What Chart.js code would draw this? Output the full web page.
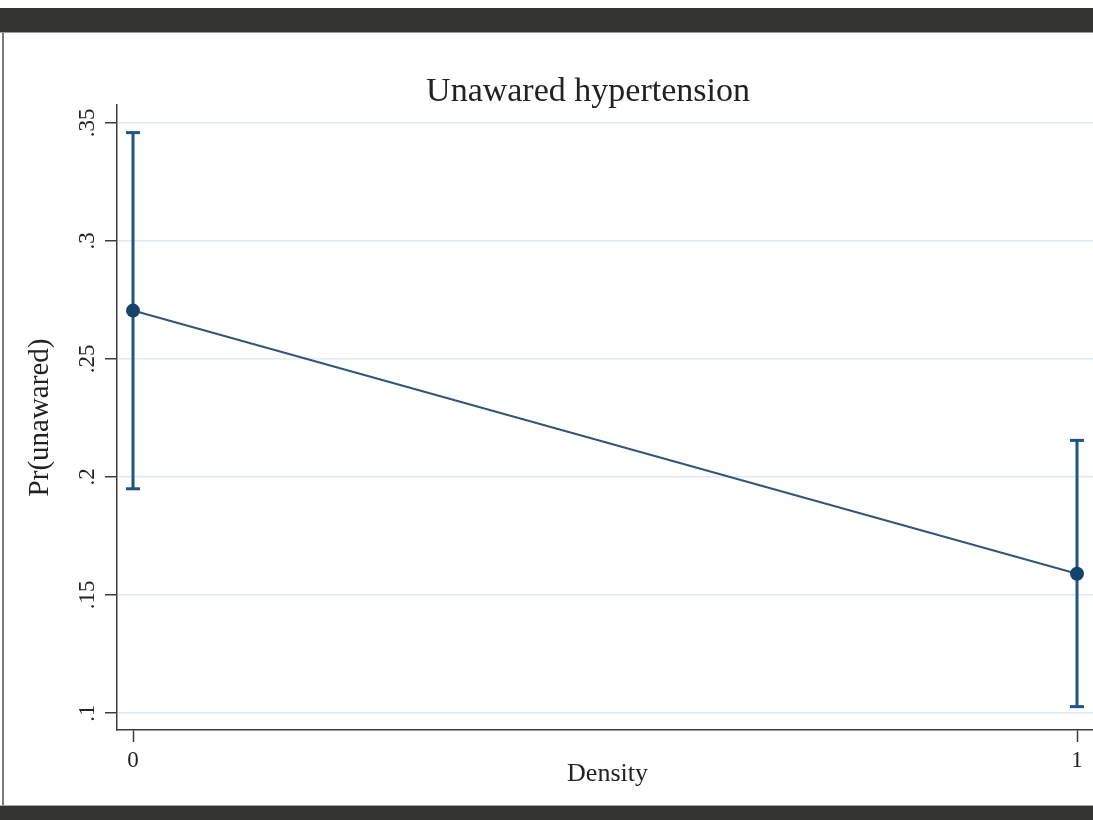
<!DOCTYPE html>
<html>
<head>
<meta charset="utf-8">
<title>Unawared hypertension</title>
<script src="https://cdn.jsdelivr.net/npm/chart.js@4.4.1/dist/chart.umd.min.js"></script>
<style>
  html, body { margin: 0; padding: 0; background: #ffffff; overflow: hidden; width: 1093px; height: 820px; }
  .bar-top { position: absolute; left: 0; top: 8px; width: 1093px; height: 24px; background: #343530; border-bottom: 1.5px solid #9c9c9c; }
  .bar-bottom { position: absolute; left: 0; top: 805px; width: 1093px; height: 15px; background: #343530; border-top: 1.5px solid #a8a8a8; }
  .edge-left { position: absolute; left: 2px; top: 33px; width: 1.5px; height: 772px; background: #7a7a7a; }
  #wrap { position: absolute; left: 4px; top: 33px; width: 1172px; height: 771px; }
</style>
</head>
<body>
<div class="bar-top"></div>
<div class="edge-left"></div>
<div id="wrap"><canvas id="chart" width="1172" height="771"></canvas></div>
<div class="bar-bottom"></div>
<script>
// Predictive margins of Pr(unawared) by density, with 95% confidence intervals
const densityLevels = [0, 1];
const marginValues = [0.2705, 0.1590];
const ciLower = [0.1950, 0.1027];
const ciUpper = [0.3459, 0.2155];
const yTickValues = [0.1, 0.15, 0.2, 0.25, 0.3, 0.35];
const xTickValues = [0, 1];

const SERIF = '"Liberation Serif", "Times New Roman", serif';
const NAVY = '#17426b';
const CI_BLUE = '#1f5584';
const AXIS = '#3c3c3c';
const TEXT = '#222222';

// the y-axis box holds the tick labels; its title hangs further left
const Y_AXIS_LEFT = 74;
const Y_AXIS_WIDTH = 39;

const datasets = [];

// estimate line with markers (drawn on top)
datasets.push({
  label: 'margin',
  data: densityLevels.map((d, i) => ({ x: d, y: marginValues[i] })),
  borderColor: '#34557a',
  borderWidth: 2,
  backgroundColor: NAVY,
  pointBackgroundColor: NAVY,
  pointBorderColor: NAVY,
  pointRadius: 7,
  pointBorderWidth: 0,
  tension: 0,
  clip: false
});

// confidence interval caps
datasets.push({
  label: 'ci-caps',
  data: densityLevels.flatMap((d, i) => [{ x: d, y: ciLower[i] }, { x: d, y: ciUpper[i] }]),
  showLine: false,
  pointStyle: 'line',
  pointRadius: 7,
  pointBorderWidth: 3,
  pointBorderColor: CI_BLUE,
  borderColor: CI_BLUE,
  clip: false
});

// confidence interval spikes
densityLevels.forEach((d, i) => {
  datasets.push({
    label: 'ci-' + d,
    data: [{ x: d, y: ciLower[i] }, { x: d, y: ciUpper[i] }],
    borderColor: CI_BLUE,
    borderWidth: 3,
    pointRadius: 0,
    clip: false
  });
});

new Chart(document.getElementById('chart'), {
  type: 'line',
  data: { datasets },
  options: {
    responsive: false,
    devicePixelRatio: 1,
    animation: false,
    layout: { padding: { left: Y_AXIS_LEFT, right: 78, top: 0, bottom: 0 } },
    plugins: {
      legend: { display: false },
      tooltip: { enabled: false },
      title: {
        display: true,
        text: 'Unawared hypertension',
        color: TEXT,
        font: { family: SERIF, size: 34, weight: 'normal', lineHeight: 0.8 },
        padding: { top: 45.7, bottom: -0.9 }
      }
    },
    scales: {
      x: {
        type: 'linear',
        min: -0.01695,
        max: 1.02224,
        afterBuildTicks: (scale) => { scale.ticks = xTickValues.map(v => ({ value: v })); },
        afterFit: (scale) => { scale.height = 74; },
        border: { display: true, color: AXIS, width: 1.5 },
        grid: { drawOnChartArea: false, drawTicks: true, tickLength: 12, tickColor: AXIS, tickWidth: 1.5 },
        ticks: {
          autoSkip: false,
          maxRotation: 0,
          padding: 4.7,
          color: TEXT,
          font: { family: SERIF, size: 23 },
          callback: (v) => String(v)
        },
        title: {
          display: true,
          text: 'Density',
          color: TEXT,
          font: { family: SERIF, size: 26 },
          padding: { top: 0, bottom: 14 }
        }
      },
      y: {
        type: 'linear',
        min: 0.0928,
        max: 0.3576,
        afterBuildTicks: (scale) => { scale.ticks = yTickValues.map(v => ({ value: v })); },
        afterFit: (scale) => { scale.width = Y_AXIS_WIDTH; },
        border: { display: true, color: AXIS, width: 1.5 },
        grid: { color: '#e1eaee', lineWidth: 1.5, drawTicks: true, tickLength: 12, tickColor: AXIS, tickWidth: 1.5 },
        ticks: {
          autoSkip: false,
          minRotation: 90,
          maxRotation: 90,
          crossAlign: 'center',
          padding: 2.6,
          color: TEXT,
          font: { family: SERIF, size: 23 },
          callback: (v) => String(v).replace(/^0\./, '.')
        },
        title: {
          display: true,
          text: 'Pr(unawared)',
          color: TEXT,
          font: { family: SERIF, size: 29 },
          // pulls the rotated title back out to the far left of the canvas
          padding: { top: 36 - Y_AXIS_LEFT - 17.4, bottom: 0 }
        }
      }
    }
  }
});
</script>
</body>
</html>
